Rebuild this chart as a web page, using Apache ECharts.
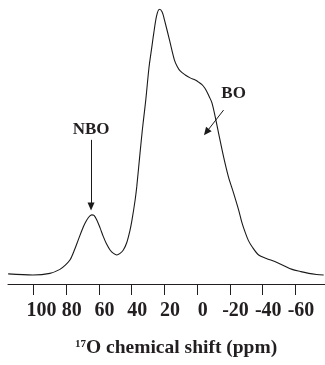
<!DOCTYPE html>
<html>
<head>
<meta charset="utf-8">
<script src="https://cdn.jsdelivr.net/npm/echarts@6/dist/echarts.min.js"></script>
<style>
  html, body { margin: 0; padding: 0; background: #fff; }
  #chart { width: 325px; height: 365px; }
</style>
</head>
<body>
<div id="chart"></div>
<script>
// Chemical shift (ppm)
const shiftPpm = [115.4, 100.3, 89.9, 83.8, 80.7, 77.7, 75.2, 72.6, 70.3, 68.5, 66.4, 64.4, 63.0, 61.3, 59.3, 57.3, 55.4, 53.2, 51.1, 49.1, 47.1, 45.1, 43.1, 41.0, 39.8, 37.9, 36.9, 34.9, 33.5, 32.8, 31.4, 29.4, 27.8, 26.5, 24.8, 23.1, 21.4, 20.0, 16.9, 13.9, 12.2, 10.4, 7.3, 4.3, 1.2, -0.6, -2.9, -4.6, -5.9, -7.3, -9.0, -11.0, -13.0, -16.1, -19.1, -22.2, -25.3, -27.2, -29.4, -31.2, -33.5, -37.5, -42.2, -47.7, -52.6, -57.9, -63.0, -68.1, -72.8, -77.2];
// Relative intensity (arbitrary units, peak = 100)
const intensity = [0.4, 0.0, 0.6, 2.1, 3.6, 5.6, 9.0, 13.2, 16.9, 19.4, 21.6, 22.6, 22.4, 20.7, 17.7, 14.4, 11.7, 9.4, 8.1, 7.5, 8.1, 9.4, 12.0, 16.9, 20.7, 28.2, 33.2, 45.9, 54.5, 58.3, 65.8, 78.2, 85.3, 91.0, 97.4, 99.9, 98.9, 95.9, 88.3, 80.8, 78.4, 76.7, 75.2, 74.1, 73.3, 72.6, 71.6, 70.3, 68.9, 67.1, 64.7, 59.4, 53.4, 44.4, 36.8, 30.8, 24.4, 19.9, 15.8, 13.0, 10.6, 7.5, 6.2, 5.0, 3.6, 2.1, 1.3, 0.6, 0.2, 0.0];
// Tick labels on the shift axis
const tickValues = [100, 80, 60, 40, 20, 0, -20, -40, -60];
// Annotations
const annotationNames = ['NBO', 'BO'];
const annotationLabelPos = [[64.8, 54.7], [-22.2, 68.3]];
const annotationArrowStart = [[64.8, 50.8], [-16.1, 62.0]];
const annotationArrowEnd = [[64.8, 25.7], [-5.6, 53.7]];

const textColor = '#231f20';
const serif = '"Liberation Serif", "Times New Roman", serif';

const chart = echarts.init(document.getElementById('chart'), null, { renderer: 'canvas' });

const seriesData = shiftPpm.map((p, i) => [p, intensity[i]]);

chart.setOption({
  animation: false,
  backgroundColor: '#ffffff',
  grid: { left: 8, right: 0, top: 9, bottom: 81, containLabel: false },
  xAxis: {
    type: 'value',
    inverse: true,
    min: -78,
    max: 115.5,
    axisLine: { show: true, onZero: false, lineStyle: { color: '#231f20', width: 1 } },
    axisTick: { show: true, inside: false, length: 11, customValues: tickValues, lineStyle: { color: '#231f20', width: 1 } },
    axisLabel: {
      show: true,
      customValues: tickValues,
      margin: 17,
      padding: [0, 0, 0, 11],
      color: textColor,
      fontFamily: serif,
      fontWeight: 'bold',
      fontSize: 20,
      formatter: v => (v === 100 ? '{w|' + v + '}' : String(v)),
      rich: {
        w: { padding: [0, 0, 0, 5], color: textColor, fontFamily: serif, fontWeight: 'bold', fontSize: 20 }
      }
    },
    splitLine: { show: false }
  },
  yAxis: {
    type: 'value',
    min: -3.4,
    max: 100,
    show: false,
    splitLine: { show: false }
  },
  series: [{
    type: 'line',
    data: seriesData,
    showSymbol: false,
    smooth: 0.3,
    lineStyle: { color: '#1a1a1a', width: 1.1 },
    markLine: {
      silent: true,
      symbol: ['none', 'triangle'],
      symbolSize: [7, 8],
      label: { show: false },
      lineStyle: { color: '#1a1a1a', width: 1, type: 'solid' },
      itemStyle: { color: '#1a1a1a' },
      data: annotationNames.map((n, i) => [
        { coord: annotationArrowStart[i] },
        { coord: annotationArrowEnd[i] }
      ])
    },
    markPoint: {
      silent: true,
      symbol: 'circle',
      symbolSize: 0,
      label: {
        show: true,
        position: 'inside',
        formatter: p => p.name,
        color: textColor,
        fontFamily: serif,
        fontWeight: 'bold',
        fontSize: 17
      },
      data: annotationNames.map((n, i) => ({ name: n, coord: annotationLabelPos[i] }))
    }
  }],
  graphic: [
    {
      type: 'text',
      style: {
        x: 75, y: 344, text: '17',
        font: 'bold 11px ' + serif,
        fill: textColor,
        textVerticalAlign: 'middle'
      }
    },
    {
      type: 'text',
      style: {
        x: 86, y: 348, text: 'O chemical shift (ppm)',
        font: 'bold 19.5px ' + serif,
        fill: textColor,
        textVerticalAlign: 'middle'
      }
    }
  ]
});
</script>
</body>
</html>
